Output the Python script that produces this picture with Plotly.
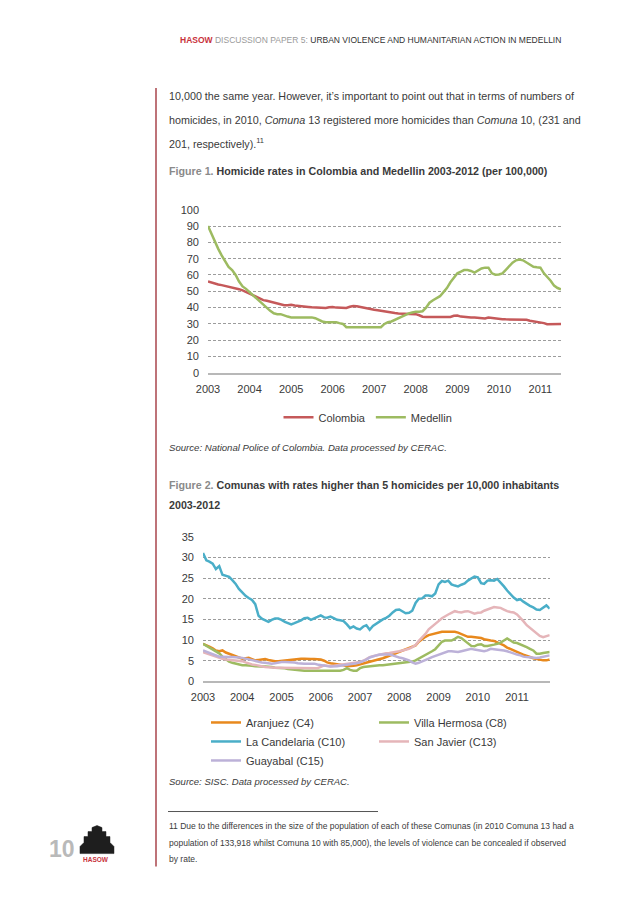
import plotly.graph_objects as go
import pandas as pd

# ---------------- DATA ----------------
years1 = ["2003", "2004", "2005", "2006", "2007", "2008", "2009", "2010", "2011"]
years2 = ["2003", "2004", "2005", "2006", "2007", "2008", "2009", "2010", "2011"]

# Figure 1: monthly homicide rates per 100,000 (Jan 2003 - Jul 2011)
colombia = [56, 55.3, 54.7, 54.2, 53.8, 53.3, 52.8, 52.5, 52.1, 51.3,
            50.6, 49.6, 48.5, 47.5, 46.5, 45.6, 44.6, 44.2, 43.6, 43.0,
            42.2, 41.8, 41.4, 41.4, 41.8, 41.3, 41.0, 40.8, 40.5, 40.4,
            40.2, 40.0, 40.0, 39.8, 39.8, 40.2, 40.4, 40.0, 40.0, 39.8,
            39.8, 40.5, 41.0, 40.8, 40.3, 39.9, 39.6, 39.0, 38.7, 38.4,
            38.0, 37.7, 37.3, 37.0, 36.7, 36.4, 36.3, 36.3, 36.3, 36.3,
            36.0, 35.3, 34.4, 34.3, 34.3, 34.3, 34.3, 34.3, 34.3, 34.3,
            34.3, 35.0, 35.2, 34.5, 34.2, 34.1, 34.0, 33.9, 33.8, 33.6,
            33.3, 33.9, 33.6, 33.2, 33.0, 32.9, 32.8, 32.8, 32.7, 32.7,
            32.7, 32.7, 32.5, 32.0, 31.6, 31.4, 31.2, 30.5, 29.8, 29.8,
            29.9, 30.0, 30.0]
medellin = [90, 85, 80, 76, 72, 68, 65, 63, 60, 56,
            53, 51.5, 49.5, 47.5, 45.5, 43.5, 41.5, 39.5, 38, 36.5,
            36, 36, 35, 34.5, 34, 34, 34, 34, 34, 34,
            34, 33.5, 32.5, 31.5, 31, 31, 31, 31, 30.5, 30,
            28, 28, 28, 28, 28, 28, 28, 28, 28, 28,
            28, 30, 31, 31.5, 32.5, 33.5, 34.5, 35.5, 36.5, 37,
            37.5, 37.5, 37.8, 40, 43, 44.5, 45.5, 47, 49.5, 52,
            55.5, 58.5, 61, 62, 63, 63, 62.5, 61.5, 63, 64,
            64.5, 64.5, 61, 60.2, 60.3, 61, 63, 65.5, 67.5, 69,
            69.5, 69, 67.5, 66.5, 65, 64.7, 64.5, 61, 59, 56.5,
            53.5, 52, 51.2]

# Figure 2: monthly homicide rates per 10,000 (Jan 2003 - Nov 2011)
aranjuez = [9.1, 8.8, 8.4, 8.0, 7.5, 7.3, 7.5, 7.0, 6.7, 6.4,
            6.2, 5.9, 5.5, 5.6, 5.7, 5.4, 5.1, 5.2, 5.3, 5.4,
            5.2, 5.0, 4.9, 4.9, 5.0, 5.1, 5.2, 5.3, 5.4, 5.5,
            5.5, 5.5, 5.4, 5.4, 5.4, 5.3, 5.3, 5.0, 4.6, 4.4,
            4.3, 4.1, 4.0, 3.9, 3.7, 3.7, 3.8, 3.9, 4.1, 4.3,
            4.6, 4.7, 4.9, 5.1, 5.3, 5.6, 5.9, 6.2, 6.4, 6.7,
            7.0, 7.3, 7.6, 7.9, 8.3, 8.7, 9.6, 10.3, 10.8, 11.2,
            11.4, 11.7, 11.9, 12.0, 12.0, 12.0, 12.0, 12.0, 11.8, 11.5,
            11.1, 10.8, 10.8, 10.7, 10.7, 10.5, 10.2, 10.0, 9.9, 9.8,
            9.5, 9.2, 8.7, 8.2, 7.8, 7.4, 7.1, 6.8, 6.5, 6.1,
            5.9, 5.6, 5.4, 5.2, 5.1, 5.1, 5.3]
villa_hermosa = [9.1, 8.6, 8.2, 7.8, 7.3, 6.8, 6.0, 5.3, 4.8, 4.5,
                 4.3, 4.1, 3.9, 3.9, 3.9, 3.8, 3.7, 3.6, 3.6, 3.6,
                 3.6, 3.5, 3.3, 3.3, 3.2, 3.2, 3.0, 2.9, 2.8, 2.7,
                 2.6, 2.6, 2.6, 2.6, 2.6, 2.6, 2.6, 2.6, 2.6, 2.6,
                 2.6, 2.6, 2.6, 2.8, 3.2, 2.8, 2.6, 2.6, 3.2, 3.5,
                 3.6, 3.6, 3.7, 3.8, 3.9, 3.9, 4.0, 4.1, 4.2, 4.3,
                 4.4, 4.5, 4.5, 4.6, 4.8, 5.1, 5.5, 5.9, 6.3, 6.7,
                 7.3, 7.8, 8.7, 9.6, 9.9, 9.9, 9.9, 10.3, 10.8, 10.5,
                 9.9, 9.3, 8.6, 8.5, 8.9, 9.0, 8.6, 8.6, 8.7, 8.9,
                 9.1, 9.4, 9.9, 10.4, 9.9, 9.4, 9.3, 9.0, 8.7, 8.3,
                 7.9, 7.5, 6.7, 6.7, 6.9, 7.0, 7.1]
la_candelaria = [31.1, 29.3, 29.0, 28.5, 27.2, 27.9, 25.8, 25.5, 25.3, 24.5,
                 23.6, 22.4, 21.5, 20.7, 20.2, 19.7, 18.7, 15.9, 15.2, 14.8,
                 14.4, 14.9, 15.2, 15.2, 14.9, 14.4, 14.1, 13.8, 14.1, 14.4,
                 14.8, 15.3, 15.4, 14.9, 15.2, 15.6, 16.0, 15.5, 15.4, 15.7,
                 15.3, 14.9, 14.8, 14.6, 13.8, 12.9, 13.3, 12.8, 12.6, 13.3,
                 13.6, 12.5, 13.4, 14.0, 14.6, 15.0, 15.4, 15.9, 16.7, 17.3,
                 17.4, 17.0, 16.5, 16.6, 17.1, 19.0, 20.0, 20.1, 20.8, 20.8,
                 20.6, 21.3, 23.5, 24.3, 24.1, 24.4, 23.5, 23.2, 23.0, 23.4,
                 23.7, 24.4, 25.0, 25.4, 25.2, 23.8, 23.6, 24.4, 24.5, 24.4,
                 24.8, 24.0, 23.0, 22.0, 21.1, 20.3, 19.7, 19.9, 19.3, 18.7,
                 18.3, 17.9, 17.4, 17.3, 17.9, 18.4, 17.6]
san_javier = [7.1, 6.8, 6.5, 6.2, 5.9, 5.7, 5.5, 5.3, 5.2, 5.1,
              5.0, 4.9, 4.9, 4.6, 4.3, 4.1, 4.0, 3.8, 3.6, 3.5,
              3.4, 3.3, 3.3, 3.3, 3.3, 3.3, 3.3, 3.3, 3.3, 3.2,
              3.2, 3.2, 3.2, 3.2, 3.2, 3.2, 3.5, 3.9, 3.8, 3.7,
              3.8, 3.9, 4.0, 4.1, 4.2, 4.3, 4.4, 4.5, 4.7, 5.0,
              5.5, 5.9, 6.1, 6.3, 6.5, 6.6, 6.8, 6.9, 7.0, 7.1,
              7.3, 7.5, 7.7, 7.9, 8.3, 8.8, 9.8, 10.6, 11.5, 12.6,
              13.2, 13.9, 14.6, 15.3, 15.8, 16.2, 16.6, 17.0, 16.8, 16.7,
              16.9, 17.0, 16.7, 16.4, 16.6, 16.7, 17.1, 17.4, 17.8, 18.0,
              17.9, 17.8, 17.4, 17.0, 16.8, 16.7, 16.2, 15.4, 14.6, 13.6,
              13.0, 12.2, 11.7, 11.0, 10.7, 10.9, 11.2]
guayabal = [7.5, 7.2, 6.9, 6.6, 6.2, 6.0, 6.0, 5.9, 5.9, 5.9,
            5.9, 5.8, 5.7, 5.5, 5.3, 5.1, 4.9, 4.8, 4.6, 4.5,
            4.4, 4.3, 4.4, 4.6, 4.7, 4.7, 4.7, 4.7, 4.6, 4.4,
            4.3, 4.3, 4.3, 4.3, 4.3, 4.1, 3.9, 3.8, 3.7, 3.6,
            3.6, 3.7, 3.8, 3.9, 4.0, 4.1, 4.2, 4.4, 4.6, 4.9,
            5.3, 5.8, 6.1, 6.3, 6.5, 6.5, 6.5, 6.5, 6.3, 6.0,
            5.8, 5.6, 5.4, 5.1, 4.6, 4.3, 4.5, 4.8, 5.2, 5.5,
            5.9, 6.2, 6.5, 6.8, 7.0, 7.3, 7.3, 7.2, 7.1, 7.3,
            7.5, 7.6, 7.9, 7.7, 7.5, 7.4, 7.3, 7.5, 7.9, 7.8,
            7.7, 7.7, 7.5, 7.3, 7.0, 6.7, 6.5, 6.3, 6.0, 5.9,
            5.8, 5.7, 5.7, 5.8, 6.0, 6.2, 6.3]

series2 = [
    ("Aranjuez (C4)", aranjuez, "#e8891d"),
    ("Villa Hermosa (C8)", villa_hermosa, "#9dbb61"),
    ("La Candelaria (C10)", la_candelaria, "#4aaec8"),
    ("San Javier (C13)", san_javier, "#e5b5b9"),
    ("Guayabal (C15)", guayabal, "#bcb1d8"),
]

# ---------------- LAYOUT HELPERS ----------------
W, H = 638, 903
ML, MR = 160, 70
PW = W - ML - MR
OFF = 8  # page body margin of the html page
FONT = "Liberation Sans, Arial, Helvetica, sans-serif"
TXT = "#3a3a3a"


def X(px):
    return (px - OFF - ML) / PW


def Y(py):
    d = (py - 6.24) / 0.9859
    return 1 - (d - OFF) / H


dates1 = pd.date_range("2003-01-01", periods=len(medellin), freq="MS")
dates2 = pd.date_range("2003-01-01", periods=len(la_candelaria), freq="MS")

fig = go.Figure()
fig.add_trace(go.Scatter(x=dates1, y=colombia, name="Colombia", mode="lines",
                         line=dict(color="#c5595a", width=2.5),
                         xaxis="x", yaxis="y", legend="legend"))
fig.add_trace(go.Scatter(x=dates1, y=medellin, name="Medellin", mode="lines",
                         line=dict(color="#9dbb61", width=2.5),
                         xaxis="x", yaxis="y", legend="legend"))
for name, vals, col in series2:
    fig.add_trace(go.Scatter(x=dates2, y=vals, name=name, mode="lines",
                             line=dict(color=col, width=2.5),
                             xaxis="x2", yaxis="y2", legend="legend2"))

axis_common = dict(showgrid=False, showline=True, linecolor="#b8b8b8", linewidth=1.5,
                   ticks="", tickfont=dict(family=FONT, size=11, color=TXT),
                   ticklabelstandoff=5, zeroline=False, fixedrange=True)
yaxis_common = dict(showgrid=True, gridcolor="#9c9c9c", gridwidth=1, griddash="3px,2px",
                    zeroline=False, showline=False, ticks="",
                    tickfont=dict(family=FONT, size=11, color=TXT),
                    ticklabelstandoff=8, fixedrange=True)

fig.update_layout(
    width=W, height=H,
    margin=dict(l=ML, r=MR, t=0, b=0),
    paper_bgcolor="white", plot_bgcolor="white",
    font=dict(family=FONT, color=TXT),
    xaxis=dict(domain=[X(208), X(561)], anchor="y", type="date",
               range=[dates1[0], dates1[-1]],
               tickvals=[f"{y}-01-01" for y in years1], ticktext=years1, **axis_common),
    yaxis=dict(domain=[Y(372.7), Y(209.7)], anchor="x", range=[0, 100], dtick=10,
               **yaxis_common),
    xaxis2=dict(domain=[X(203), X(549.7)], anchor="y2", type="date",
                range=[dates2[0], dates2[-1]],
                tickvals=[f"{y}-01-01" for y in years2], ticktext=years2, **axis_common),
    yaxis2=dict(domain=[Y(681), Y(536.5)], anchor="x2", range=[0, 35], dtick=5,
                **yaxis_common),
    legend=dict(orientation="h", x=X(368), xanchor="center", y=Y(417), yanchor="middle",
                font=dict(family=FONT, size=11, color=TXT), bgcolor="rgba(0,0,0,0)"),
    legend2=dict(orientation="h", x=X(206), xanchor="left", y=Y(741), yanchor="middle",
                 entrywidth=123, entrywidthmode="pixels", traceorder="normal",
                 font=dict(family=FONT, size=11, color=TXT), bgcolor="rgba(0,0,0,0)"),
    showlegend=True,
)

ann = []


def text(px, py, s, size=11, color=TXT, anchor="left", family=FONT):
    ann.append(dict(x=X(px), y=Y(py), xref="paper", yref="paper", text=s,
                    showarrow=False, xanchor=anchor, yanchor="middle",
                    font=dict(family=family, size=size, color=color)))


# header
text(178, 40, "<b><span style='color:#c8323c'>HASOW</span></b> "
     "<span style='color:#9a9a9a'>DISCUSSION PAPER 5:</span> "
     "<span style='color:#333'>URBAN VIOLENCE AND HUMANITARIAN ACTION IN MEDELLIN</span>",
     size=8.5)

# body text
text(167, 96.5, "10,000 the same year. However, it\u2019s important to point out that in terms of numbers of", size=10.75)
text(167, 120.5, "homicides, in 2010, <i>Comuna</i> 13 registered more homicides than <i>Comuna</i> 10, (231 and", size=10.75)
text(167, 143, "201, respectively).<sup>11</sup>", size=10.75)

# figure 1 title
text(167, 170.5, "<b><span style='color:#8a8a8a'>Figure 1.</span> "
     "Homicide rates in Colombia and Medellin 2003-2012 (per 100,000)</b>", size=10.7)

# source 1
text(167, 447, "<i>Source: National Police of Colombia. Data processed by CERAC.</i>", size=9.6)

# figure 2 title
text(167, 484.5, "<b><span style='color:#8a8a8a'>Figure 2.</span> "
     "Comunas with rates higher than 5 homicides per 10,000 inhabitants</b>", size=10.7)
text(167, 505, "<b>2003-2012</b>", size=10.7)

# source 2
text(167, 781, "<i>Source: SISC. Data processed by CERAC.</i>", size=9.5)

# footnote
text(167, 825, "11 Due to the differences in the size of the population of each of these Comunas (in 2010 Comuna 13 had a", size=8.5)
text(167, 842, "population of 133,918 whilst Comuna 10 with 85,000), the levels of violence can be concealed if observed", size=8.5)
text(167, 858, "by rate.", size=8.5)

# page number and logo text
text(62, 848, "<b>10</b>", size=23, color="#b9b9b9", anchor="center")
text(96, 859, "<b>HASOW</b>", size=6.5, color="#c8323c", anchor="center")

fig.update_layout(annotations=ann)

# shapes: left red rule, footnote separator, logo silhouette
logo_pts = [(80, 853), (80, 846), (84, 842), (84, 836), (88, 836), (88, 831), (92, 831),
            (92, 827), (97, 825), (102, 827), (102, 831), (106, 831), (106, 836),
            (110, 836), (110, 842), (114, 846), (114, 853)]
logo_path = "M " + " L ".join(f"{X(a):.4f},{Y(b):.4f}" for a, b in logo_pts) + " Z"

fig.update_layout(shapes=[
    dict(type="line", xref="paper", yref="paper", x0=X(156), x1=X(156), y0=Y(88), y1=Y(866),
         line=dict(color="#a8454b", width=1.5)),
    dict(type="line", xref="paper", yref="paper", x0=X(168), x1=X(378), y0=Y(811), y1=Y(811),
         line=dict(color="#555555", width=1)),
    dict(type="path", xref="paper", yref="paper", path=logo_path,
         fillcolor="#1e1e1e", line=dict(color="#1e1e1e", width=0.5)),
])

fig.write_html("out.html", config={"displayModeBar": False})
